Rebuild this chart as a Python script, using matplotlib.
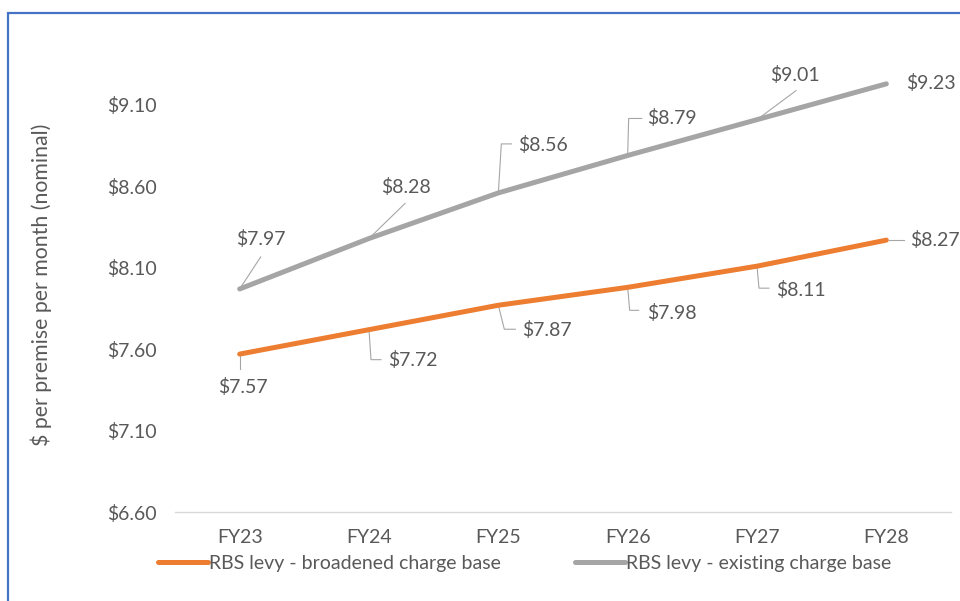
import matplotlib
matplotlib.use("Agg")
import matplotlib.pyplot as plt
from matplotlib.patches import Rectangle

# data
years = ["FY23", "FY24", "FY25", "FY26", "FY27", "FY28"]
broadened = [7.57, 7.72, 7.87, 7.98, 8.11, 8.27]
existing = [7.97, 8.28, 8.56, 8.79, 9.01, 9.23]
y_ticks = [6.60, 7.10, 7.60, 8.10, 8.60, 9.10]

ORANGE = "#ED7D31"
GREY = "#A5A5A5"
TEXT = "#595959"
FONT = "Lato"
FS = 14

plt.rcParams["font.family"] = [FONT, "DejaVu Sans"]

W, H = 960, 601
fig = plt.figure(figsize=(W / 100, H / 100), dpi=100)

# plot area in image pixels (left, right, bottom of y-axis)
x_left, x_right, y_bottom = 175, 951, 512
px_per_unit = 162.8
y_top_val = 9.45
ax_h = (y_top_val - 6.60) * px_per_unit
ax = fig.add_axes([x_left / W, (H - y_bottom) / H, (x_right - x_left) / W, ax_h / H])

x = list(range(len(years)))
ax.plot(x, broadened, color=ORANGE, lw=3.6, solid_capstyle="round", label="RBS levy - broadened charge base")
ax.plot(x, existing, color=GREY, lw=3.6, solid_capstyle="round", label="RBS levy - existing charge base")

ax.set_xlim(-0.5, len(years) - 0.5)
ax.set_ylim(6.60, y_top_val)
ax.set_yticks(y_ticks)
ax.set_yticklabels([f"${v:.2f}" for v in y_ticks])
ax.set_xticks(x)
ax.set_xticklabels(years)
ax.tick_params(axis="both", length=0, labelsize=FS, labelcolor=TEXT)
ax.tick_params(axis="y", pad=13)
ax.tick_params(axis="x", pad=12)
for s in ["left", "right", "top"]:
    ax.spines[s].set_visible(False)
ax.spines["bottom"].set_color("#D9D9D9")
ax.spines["bottom"].set_linewidth(1.0)

ax.set_ylabel("$ per premise per month (nominal)", fontsize=15.3, color=TEXT)
ax.yaxis.set_label_coords(-0.158, 0.489)

# data labels: text offset and leader line, in image pixels (y down) from the point
grey_labels = [
    ((21, -50), [(0, 0), (21, -32)]),
    ((37, -51), [(0, 0), (36, -35)]),
    ((45, -48), [(0, 0), (3, -49), (13, -49)]),
    ((44, -37), [(0, 0), (1, -37), (14, -37)]),
    ((38, -45), [(0, 0), (39, -29)]),
    ((45, -1), None),
]
orange_labels = [
    ((3, 33), [(0, 0), (0, 15)]),
    ((44, 30), [(0, 0), (2, 30), (12, 30)]),
    ((49, 25), [(0, 0), (6, 24), (17, 24)]),
    ((44, 26), [(0, 0), (2, 23), (11, 23)]),
    ((44, 24), [(0, 0), (2, 22), (12, 22)]),
    ((49, 0), [(3, 0), (18, 0)]),
]

inv = ax.transData.inverted()


def px_to_data(px, py):
    return inv.transform((px, py))


for series, specs in [(existing, grey_labels), (broadened, orange_labels)]:
    for i, (val, (toff, leader)) in enumerate(zip(series, specs)):
        bx, by = ax.transData.transform((i, val))
        if leader:
            pts = [px_to_data(bx + dx, by - dy) for dx, dy in leader]
            ax.plot([p[0] for p in pts], [p[1] for p in pts], color="#A6A6A6",
                    lw=0.8, clip_on=False, zorder=1)
        tx, ty = px_to_data(bx + toff[0], by - toff[1])
        ax.text(tx, ty, f"${val:.2f}", ha="center", va="center", fontsize=FS,
                color=TEXT, clip_on=False)

leg = fig.legend(loc="center left", bbox_to_anchor=(158 / W, (H - 563) / H), ncol=2,
                 frameon=False, fontsize=FS, labelcolor=TEXT, handlelength=2.55,
                 handletextpad=0.05, columnspacing=3.85, borderpad=0, borderaxespad=0)
for line in leg.get_lines():
    line.set_linewidth(3.6)

# blue outline of the chart object (runs off the right and bottom edges)
fig.add_artist(Rectangle((8 / W, -0.1), 1.2, (H - 13) / H + 0.1, transform=fig.transFigure,
                         fill=False, edgecolor="#4472C4", lw=1.6))

fig.savefig("out.png", dpi=100)
